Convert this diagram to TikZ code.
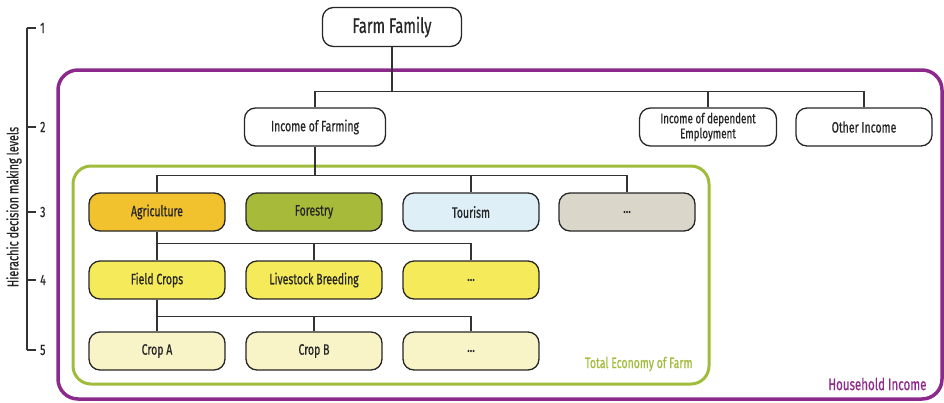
\documentclass[tikz,border=0pt]{standalone}
\usepackage{fontspec}
\usetikzlibrary{calc}
\setmainfont{Fira Sans}[FakeStretch=0.70, FakeBold=0.6]
\definecolor{hhpurple}{RGB}{140,42,140}
\definecolor{tegreen}{RGB}{160,188,60}
\definecolor{agri}{RGB}{242,193,46}
\definecolor{fores}{RGB}{168,186,58}
\definecolor{tour}{RGB}{222,239,247}
\definecolor{gray1}{RGB}{218,215,202}
\definecolor{lvl4}{RGB}{244,234,90}
\definecolor{lvl5}{RGB}{249,243,200}
\tikzset{
  box/.style={draw=black!85, line width=1.3pt, rounded corners=11pt, minimum width=136pt, minimum height=38pt, align=center, font=\fontsize{15}{15}\selectfont, inner sep=1pt, text=black!85},
  conn/.style={draw=black!80, line width=1.2pt},
}
\begin{document}
\begin{tikzpicture}[x=1pt,y=-1pt]
\useasboundingbox (0,0) rectangle (944,402);
% containers
\draw[hhpurple, line width=3.5pt, rounded corners=20pt] (58,70) rectangle (942,399);
\draw[tegreen, line width=3pt, rounded corners=18pt] (73,166) rectangle (709,384);
\node[text=hhpurple, anchor=east, font=\fontsize{16.5}{16}\selectfont] (hh) at (930,384) {Household Income};
\node[text=tegreen, anchor=east, font=\fontsize{15}{15}\selectfont] (te) at (696,364) {Total Economy of Farm};
% nodes
\node[box, minimum width=139pt, minimum height=39pt, font=\fontsize{21}{21}\selectfont] (ff) at (392,27) {Farm Family};
\node[box, fill=white, minimum width=141pt] (inf) at (315,127) {Income of Farming};
\node[box, fill=white, minimum width=137pt, font=\fontsize{14}{15}\selectfont] (ide) at (708,127) {Income of dependent\\Employment};
\node[box, fill=white] (oi) at (864,127) {Other Income};
\node[box, fill=agri] (agr) at (157,212) {Agriculture};
\node[box, fill=fores] (for) at (314,212) {Forestry};
\node[box, fill=tour] (tou) at (471,212) {Tourism};
\node[box, fill=gray1] (d3) at (627,212) {...};
\node[box, fill=lvl4] (fc) at (157,280) {Field Crops};
\node[box, fill=lvl4] (lb) at (314,280) {Livestock Breeding};
\node[box, fill=lvl4] (d4) at (471,280) {...};
\node[box, fill=lvl5] (ca) at (157,351) {Crop A};
\node[box, fill=lvl5] (cb) at (314,351) {Crop B};
\node[box, fill=lvl5] (d5) at (471,351) {...};
% connectors
\draw[conn] (ff.south) -- ++(0,44) -| (inf.north);
\draw[conn] (ff.south) ++(0,44) -| (ide.north);
\draw[conn] (ff.south) ++(0,44) -| (oi.north);
\draw[conn] (inf.south) |- ($(agr.north)+(0,-17)$) -- (agr.north);
\draw[conn] (inf.south) |- ($(d3.north)+(0,-17)$) -- (d3.north);
\draw[conn] (tou.north) -- ++(0,-17);
\draw[conn] (agr.south) |- ($(d4.north)+(0,-17)$) -- (d4.north);
\draw[conn] (lb.north) -- ++(0,-17);
\draw[conn] (fc.south) |- ($(d5.north)+(0,-15)$) -- (d5.north);
\draw[conn] (cb.north) -- ++(0,-15);
\draw[conn] (agr.south) -- (fc.north);
\draw[conn] (fc.south) -- (ca.north);
% levels scale
\coordinate (s1) at (27,28);
\coordinate (s5) at (27,350);
\draw[conn] (s1) -- (s5);
\foreach \y/\n in {28/1,127/2,212/3,280/4,350/5}{
  \draw[conn] (27,\y) -- (36,\y);
  \node[font=\fontsize{15}{15}\selectfont, anchor=west, inner sep=1pt, text=black!85] (lv\n) at (39,\y) {\n};
}
\node[rotate=90, font=\fontsize{15.5}{15}\selectfont, text=black!85] (hl) at (14,207) {Hierachic decision making levels};
\end{tikzpicture}
\end{document}
